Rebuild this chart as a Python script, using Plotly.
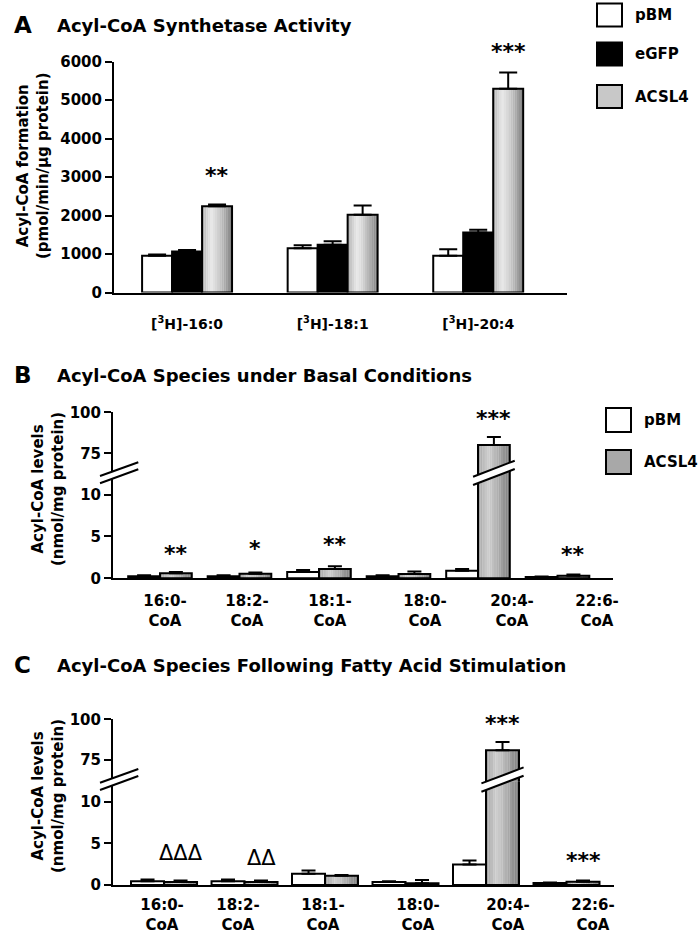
import plotly.graph_objects as go

W, H = 699, 932
FONT = "DejaVu Sans"

# ---------------- data ----------------
# Panel A: Acyl-CoA synthetase activity (pmol/min/ug protein)
a_categories = ["[<sup>3</sup>H]-16:0", "[<sup>3</sup>H]-18:1", "[<sup>3</sup>H]-20:4"]
a_pbm = [955, 1150, 955]
a_pbm_err = [30, 80, 170]
a_egfp = [1065, 1240, 1560]
a_egfp_err = [40, 90, 70]
a_acsl4 = [2240, 2020, 5300]
a_acsl4_err = [50, 240, 420]
a_sig = ["**", "", "***"]

# Panel B: basal acyl-CoA species (nmol/mg protein)
species = ["16:0-<br>CoA", "18:2-<br>CoA", "18:1-<br>CoA", "18:0-<br>CoA", "20:4-<br>CoA", "22:6-<br>CoA"]
b_pbm = [0.25, 0.25, 0.75, 0.25, 0.9, 0.15]
b_pbm_err = [0.1, 0.1, 0.25, 0.1, 0.2, 0.05]
b_acsl4 = [0.6, 0.55, 1.1, 0.5, 80, 0.3]
b_acsl4_err = [0.15, 0.15, 0.35, 0.3, 5, 0.15]
b_sig = ["**", "*", "**", "", "***", "**"]

# Panel C: after fatty acid stimulation (nmol/mg protein)
c_pbm = [0.45, 0.45, 1.35, 0.35, 2.45, 0.25]
c_pbm_err = [0.2, 0.2, 0.4, 0.1, 0.5, 0.05]
c_acsl4 = [0.35, 0.35, 1.1, 0.2, 81, 0.4]
c_acsl4_err = [0.2, 0.2, 0.1, 0.4, 5, 0.15]
c_sig = ["\u0394\u0394\u0394", "\u0394\u0394", "", "", "***", "***"]

# ---------------- helpers ----------------
def px(x):
    return x / W

def py(y):
    return 1 - y / H

WHITE = "white"
BLACK = "black"

fig = go.Figure(layout=dict(template="none"))


def add_bar(x, y, err, color, xa, ya, width, offset, capw, name):
    fig.add_trace(go.Bar(
        x=x, y=y, name=name, xaxis=xa, yaxis=ya,
        width=width, offset=offset,
        marker=dict(color=color, line=dict(color=BLACK, width=2)),
        error_y=dict(type="data", symmetric=False, array=err,
                     arrayminus=[0] * len(err), color=BLACK,
                     thickness=2, width=capw),
        showlegend=False, hoverinfo="skip",
    ))


def shade(t, lo, hi, right):
    # cylinder-like horizontal shading: light near 30 % of the width
    if t < 0.3:
        v = lo + (hi - lo) * (t / 0.3) ** 0.7
    else:
        v = hi - (hi - right) * ((t - 0.3) / 0.7) ** 1.3
    v = int(round(v))
    return f"rgb({v},{v},{v})"


def add_gradient_bar(x, y, err, xa, ya, width, offset, capw, lo, hi, right, n=14):
    # shaded strips, then a transparent outlined bar carrying the error bars
    sw = width / n
    for k in range(n):
        fig.add_trace(go.Bar(
            x=x, y=y, xaxis=xa, yaxis=ya, width=sw * 1.06, offset=offset + k * sw,
            marker=dict(color=shade((k + 0.5) / n, lo, hi, right), line=dict(width=0)),
            showlegend=False, hoverinfo="skip",
        ))
    add_bar(x, y, err, "rgba(0,0,0,0)", xa, ya, width, offset, capw, "ACSL4")


# Panel A bars
ax = list(range(len(a_categories)))
wa = 0.206
add_bar(ax, a_pbm, a_pbm_err, WHITE, "x", "y", wa, -1.5 * wa, 9, "pBM")
add_bar(ax, a_egfp, a_egfp_err, BLACK, "x", "y", wa, -0.5 * wa, 9, "eGFP")
add_gradient_bar(ax, a_acsl4, a_acsl4_err, "x", "y", wa, 0.5 * wa, 9, 165, 232, 125)

# Panels B and C (broken axis: lower and upper subplots)
bx = list(range(len(species)))
wb = 0.40
wc = 0.41
for xa, ya in (("x2", "y2"), ("x3", "y3")):
    add_bar(bx, b_pbm, b_pbm_err, WHITE, xa, ya, wb, -wb, 7, "pBM")
    add_gradient_bar(bx, b_acsl4, b_acsl4_err, xa, ya, wb, 0, 7, 150, 205, 120)
for xa, ya in (("x4", "y4"), ("x5", "y5")):
    add_bar(bx, c_pbm, c_pbm_err, WHITE, xa, ya, wc, -wc, 7, "pBM")
    add_gradient_bar(bx, c_acsl4, c_acsl4_err, xa, ya, wc, 0, 7, 150, 205, 120)

# ---------------- axes ----------------
tickfont = dict(family=FONT, size=15, color=BLACK, weight="bold")
yst = dict(showline=True, linecolor=BLACK, linewidth=2, showgrid=False,
           zeroline=False, ticks="outside", ticklen=7, tickwidth=2,
           tickcolor=BLACK, tickfont=tickfont, fixedrange=True, automargin=False)
xst = dict(showline=True, linecolor=BLACK, linewidth=2, showgrid=False,
           zeroline=False, ticks="", tickfont=dict(family=FONT, size=14, color=BLACK, weight="bold"),
           fixedrange=True, automargin=False)

# Panel A geometry
A_Y0, A_Y6000 = 292.5, 61.7
A_MAX = 6000
layout = dict(
    width=W, height=H, margin=dict(l=0, r=0, t=0, b=0, pad=0), autosize=False,
    paper_bgcolor="white", plot_bgcolor="white", barmode="overlay",
    showlegend=False,
    xaxis=dict(xst, domain=[px(114), px(567)], range=[-0.502, 2.61],
               tickvals=ax, ticktext=a_categories, anchor="y",
               ticklabelstandoff=18),
    yaxis=dict(yst, domain=[py(A_Y0), py(A_Y6000)], range=[0, A_MAX],
               tickvals=[0, 1000, 2000, 3000, 4000, 5000, 6000], anchor="x"),
)

# Panel B geometry
B_ZERO, B_BREAK, B_TOP = 578.3, 475.0, 412.3
b_lab = [0.063, 1.094, 2.138, 3.333, 4.428, 5.497]
layout.update(
    xaxis2=dict(xst, domain=[px(113), px(613)], range=[-0.591, 5.698],
                tickvals=b_lab, ticktext=species, anchor="y2",
                tickfont=dict(family=FONT, size=15, color=BLACK, weight="bold"),
                ticklabelstandoff=8),
    yaxis2=dict(yst, domain=[py(B_ZERO), py(B_BREAK)],
                range=[0, (B_ZERO - B_BREAK) / 8.38], tickvals=[0, 5, 10], anchor="x2"),
    xaxis3=dict(domain=[px(113), px(613)], range=[-0.591, 5.698], visible=False,
                showticklabels=False, anchor="y3", fixedrange=True, automargin=False),
    yaxis3=dict(yst, domain=[py(B_BREAK), py(B_TOP)],
                range=[100 - (B_BREAK - B_TOP) / 1.64, 100], tickvals=[75, 100], anchor="x3"),
)

# Panel C geometry
C_ZERO, C_BREAK, C_TOP = 885.0, 781.7, 719.3
c_lab = [-0.025, 0.919, 1.975, 3.155, 4.273, 5.329]
layout.update(
    xaxis4=dict(xst, domain=[px(113), px(614)], range=[-0.634, 5.59],
                tickvals=c_lab, ticktext=species, anchor="y4",
                tickfont=dict(family=FONT, size=15, color=BLACK, weight="bold"),
                ticklabelstandoff=5),
    yaxis4=dict(yst, domain=[py(C_ZERO), py(C_BREAK)],
                range=[0, (C_ZERO - C_BREAK) / 8.33], tickvals=[0, 5, 10], anchor="x4"),
    xaxis5=dict(domain=[px(113), px(614)], range=[-0.634, 5.59], visible=False,
                showticklabels=False, anchor="y5", fixedrange=True, automargin=False),
    yaxis5=dict(yst, domain=[py(C_BREAK), py(C_TOP)],
                range=[100 - (C_BREAK - C_TOP) / 1.63, 100], tickvals=[75, 100], anchor="x5"),
)
fig.update_layout(**layout)

# ---------------- annotations ----------------
ann = []

def text(x, y, s, size, xanchor="left", yanchor="middle", xref="paper", yref="paper",
         angle=0, weight="bold"):
    ann.append(dict(x=x, y=y, xref=xref, yref=yref, text=s, showarrow=False,
                    xanchor=xanchor, yanchor=yanchor, textangle=angle,
                    font=dict(family=FONT, size=size, color=BLACK, weight=weight)))

# panel titles
for letter, title, yc in (("A", "Acyl-CoA Synthetase Activity", 25),
                          ("B", "Acyl-CoA Species under Basal Conditions", 375),
                          ("C", "Acyl-CoA Species Following Fatty Acid Stimulation", 665)):
    text(px(12), py(yc), letter, 23)
    text(px(55), py(yc), title, 18)

# y titles
text(px(33), py(166), "Acyl-CoA formation<br>(pmol/min/\u03bcg protein)", 15, xanchor="center", angle=-90)
text(px(48), py(489), "Acyl-CoA levels<br>(nmol/mg protein)", 15, xanchor="center", angle=-90)
text(px(48), py(796), "Acyl-CoA levels<br>(nmol/mg protein)", 15, xanchor="center", angle=-90)

# significance marks (vertical placement in axis units; A uses its domain fraction)
a_sig_y = [3030, 0, 6260]
for i, s in enumerate(a_sig):
    if s:
        text(i + wa, a_sig_y[i] / A_MAX, s, 22, xanchor="center", xref="x", yref="y domain")

b_sig_pos = [("y2", 3.0), ("y2", 3.6), ("y2", 4.0), None, ("y3", 96.5), ("y2", 2.8)]
for i, s in enumerate(b_sig):
    if s:
        yr, yv = b_sig_pos[i]
        text(i + wb / 2, yv, s, 22, xanchor="center", xref="x2", yref=yr)

c_sig_pos = [("y4", 3.85), ("y4", 3.2), None, None, ("y5", 97.5), ("y4", 3.0)]
for i, s in enumerate(c_sig):
    if s:
        yr, yv = c_sig_pos[i]
        sz = 21 if "\u0394" in s else 22
        wt = "normal" if "\u0394" in s else "bold"
        text(i + wc / 2, yv, s, sz, xanchor="center", xref="x4", yref=yr, weight=wt)

# legends (drawn as boxes + labels)
shapes = []

def legend_box(x0, x1, y0, y1, color, label):
    shapes.append(dict(type="rect", xref="paper", yref="paper",
                       x0=px(x0), x1=px(x1), y0=py(y1), y1=py(y0),
                       fillcolor=color, line=dict(color=BLACK, width=2)))
    text(px(x1 + 11), py((y0 + y1) / 2), label, 15)

legend_box(597, 622, 3.5, 26.5, WHITE, "pBM")
legend_box(597, 622, 42.5, 65.5, BLACK, "eGFP")
legend_box(597, 622, 85, 108, "#c8c8c8", "ACSL4")
legend_box(606, 631, 408, 432, WHITE, "pBM")
legend_box(606, 631, 450, 474, "#a8a8a8", "ACSL4")

# axis breaks
def brk(xref, xa, xb, y_up_a, y_up_b, y_lo_a, y_lo_b):
    path = (f"M {xa},{py(y_lo_a)} L {xb},{py(y_lo_b)} L {xb},{py(y_up_b)} "
            f"L {xa},{py(y_up_a)} Z")
    shapes.append(dict(type="path", xref=xref, yref="paper", path=path,
                       fillcolor="white", line=dict(width=0), layer="above"))
    shapes.append(dict(type="line", xref=xref, yref="paper", x0=xa, x1=xb,
                       y0=py(y_up_a), y1=py(y_up_b), line=dict(color=BLACK, width=2)))
    shapes.append(dict(type="line", xref=xref, yref="paper", x0=xa, x1=xb,
                       y0=py(y_lo_a), y1=py(y_lo_b), line=dict(color=BLACK, width=2)))

for shift, xr, bw in ((0.0, "x2", wb), (C_BREAK - B_BREAK, "x4", wc)):
    # on the y axis
    brk("paper", px(100), px(138.3), 476 + shift, 462.3 + shift, 483.3 + shift, 469.3 + shift)
    # on the 20:4 ACSL4 bar
    bc = 4 + bw / 2
    brk(xr, bc - 0.262, bc + 0.262, 476.7 + shift, 460.7 + shift, 485 + shift, 469 + shift)

fig.update_layout(annotations=ann, shapes=shapes)
fig.write_html("out.html",
               config={"displayModeBar": False, "staticPlot": True},
               post_script="document.body.style.margin='0';document.body.style.overflow='hidden';")
